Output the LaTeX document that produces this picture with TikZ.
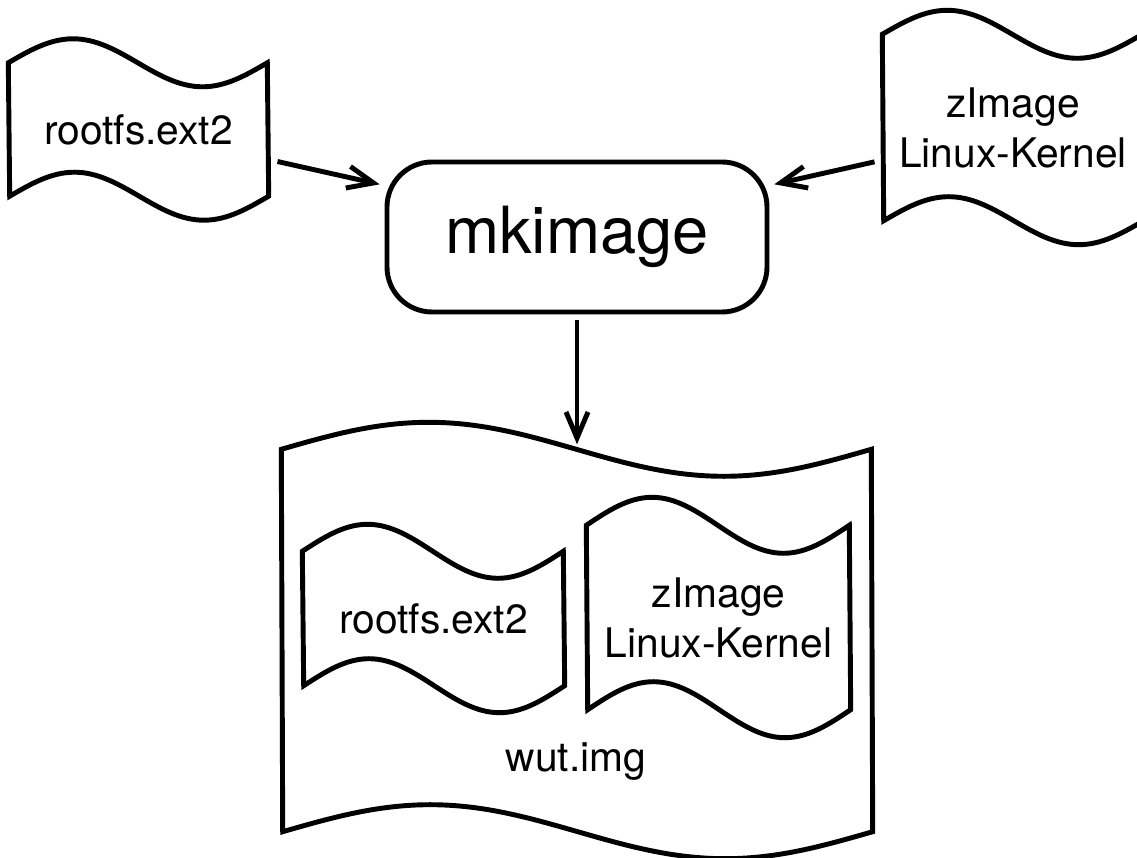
\documentclass[tikz,border=0pt]{standalone}
\usepackage{fontspec}
\setmainfont{TeX Gyre Heros}
\usetikzlibrary{arrows.meta}

\tikzset{
    tapebox/.style={rectangle, inner sep=0pt, align=center,
        font=\fontsize{11.6}{14.2}\selectfont},
    tapeline/.style={line width=1.4pt, line join=miter},
    toolbox/.style={rectangle, rounded corners=0.45cm, draw, line width=1.4pt,
        font=\fontsize{18.5}{22}\selectfont},
    flowarrow/.style={-{Straight Barb[length=2.6mm,width=2.2mm]}, line width=1.4pt}
}

% tape: name, x, y, width, height, wave, text
\newcommand{\tapefile}[7]{%
    \node (#1) at (#2,#3) [tapebox, minimum width=#4cm, minimum height=#5cm] {#7};
    \draw[tapeline] (#1.north west) sin ++(#4/4,#6) cos ++(#4/4,-#6) sin ++(#4/4,-#6) cos ++(#4/4,#6)
        -- (#1.south east) sin ++(-#4/4,-#6) cos ++(-#4/4,#6) sin ++(-#4/4,#6) cos ++(-#4/4,-#6) -- cycle;
}

\begin{document}
\begin{tikzpicture}
    \useasboundingbox (0,0) rectangle (11.37,8.57);

    % nodes
    \tapefile{img}{5.77}{2.165}{5.90}{3.81}{0.27}{}
    \node (imgname) at (5.76,0.85) [anchor=base, font=\fontsize{11.6}{14.2}\selectfont] {wut.img};
    \tapefile{innerfs}{4.335}{2.385}{2.61}{1.33}{0.27}{rootfs.ext2}
    \tapefile{innerkernel}{7.185}{2.395}{2.63}{1.83}{0.28}{zImage\\Linux-Kernel}
    \node (mkimage) at (5.77,6.20) [toolbox, minimum width=3.8cm, minimum height=1.5cm] {mkimage};
    \tapefile{rootfs}{1.385}{7.275}{2.59}{1.32}{0.24}{rootfs.ext2}
    \tapefile{kernel}{10.13}{7.295}{2.60}{1.85}{0.24}{zImage\\Linux-Kernel}

    % paths
    \draw[flowarrow, shorten <=0.09cm, shorten >=0.05cm] (rootfs.-13) -- (mkimage.165);
    \draw[flowarrow, shorten <=0.08cm, shorten >=0.05cm] (kernel.-166) -- (mkimage.15);
    \draw[flowarrow, shorten <=0.06cm, shorten >=0.05cm] (mkimage.south) -- (img.north);
\end{tikzpicture}
\end{document}
